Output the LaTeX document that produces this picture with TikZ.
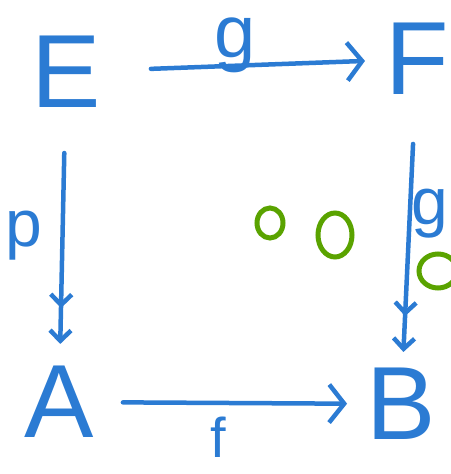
\documentclass[tikz,border=0pt]{standalone}
\usepackage{fontspec}
\setmainfont{Liberation Sans}
\usetikzlibrary{arrows.meta}
\definecolor{ink}{HTML}{2B7BD3}
\definecolor{leaf}{HTML}{5AA300}
\begin{document}
\begin{tikzpicture}[
    x=1pt,y=-1pt,
    every node/.style={text=ink,inner sep=0pt,font=\fontsize{104}{104}\selectfont},
    lbl/.style={font=\fontsize{66}{66}\selectfont},
    >={Straight Barb[length=15pt,width=38pt,line width=4.5pt]},
    line width=4.5pt, line cap=round
]
\useasboundingbox (0,0) rectangle (450,474);

\node (E) at (66,72) {E};
\node (F) at (417,59) {F};
\node (A) at (59,402) {A};
\node (B) at (401,404) {B};

\draw[->,ink,shorten <=48pt,shorten >=18pt] (E) -- (F);
\draw[-{Straight Barb[sep=20pt] Straight Barb},ink,shorten <=43pt,shorten >=20pt] (E) -- (A);
\draw[-{Straight Barb[sep=20pt] Straight Barb},ink,shorten <=47pt,shorten >=14pt] (F) -- (B);
\draw[->,ink,shorten <=27pt,shorten >=17pt] (A) -- (B);

\node[lbl,font=\fontsize{74}{74}\selectfont] (g1) at (235,45) {g};
\node[lbl] (p) at (24,236) {p};
\node[lbl,font=\fontsize{56}{56}\selectfont] (f) at (218,437) {f};
\node[lbl] (g2) at (430,214) {g};

\draw[leaf,line width=5pt] (270,223) ellipse [x radius=13,y radius=15];
\draw[leaf,line width=5pt] (335,235) ellipse [x radius=17,y radius=22];
\draw[leaf,line width=5pt] (438,271) ellipse [x radius=19,y radius=17];
\end{tikzpicture}
\end{document}
